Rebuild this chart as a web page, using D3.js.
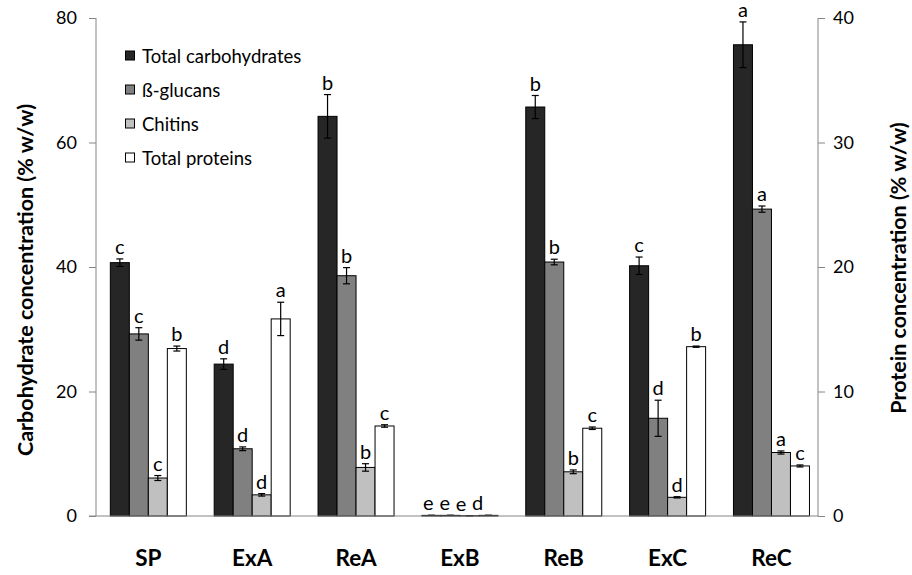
<!DOCTYPE html>
<html><head><meta charset="utf-8">
<script src="https://cdn.jsdelivr.net/npm/d3@7"></script>
<style>
body{margin:0;background:#fff}
text{font-family:Lato,'Open Sans',sans-serif;fill:#000}
</style>
</head><body><svg id="chart" width="912" height="575"></svg>
<script>
// Samples along the x axis
const samples = ["SP", "ExA", "ReA", "ExB", "ReB", "ExC", "ReC"];
const seriesNames = ["Total carbohydrates", "ß-glucans", "Chitins", "Total proteins"];

// Carbohydrate fractions (% w/w, left axis)
const carbohydrates    = [40.7, 24.4, 64.2, 0.1, 65.7, 40.2, 75.7];
const carbohydratesErr = [0.6, 0.85, 3.5, 0, 1.85, 1.4, 3.67];
const glucans          = [29.25, 10.8, 38.6, 0.1, 40.8, 15.7, 49.3];
const glucansErr       = [1.0, 0.3, 1.3, 0, 0.45, 2.9, 0.5];
const chitins          = [6.1, 3.4, 7.8, 0.05, 7.1, 3.0, 10.2];
const chitinsErr       = [0.4, 0.2, 0.6, 0, 0.3, 0.1, 0.25];

// Proteins (% w/w, right axis)
const proteins    = [13.45, 15.83, 7.23, 0.05, 7.05, 13.6, 4.02];
const proteinsErr = [0.2, 1.34, 0.1, 0, 0.1, 0.05, 0.08];

// Significance letters per series
const carbohydratesLetters = ["c", "d", "b", "e", "b", "c", "a"];
const glucansLetters       = ["c", "d", "b", "e", "b", "d", "a"];
const chitinsLetters       = ["c", "d", "b", "e", "b", "d", "a"];
const proteinsLetters      = ["b", "a", "c", "d", "c", "b", "c"];

const leftTicks = [0, 20, 40, 60, 80];
const rightTicks = [0, 10, 20, 30, 40];

const fills = ["#262626", "#808080", "#c0c0c0", "#ffffff"];

const svg = d3.select("#chart");

const yL = d3.scaleLinear().domain([0, 80]).range([516, 18]);
const yR = d3.scaleLinear().domain([0, 40]).range([516, 18]);

const xLeft = 96, xRight = 818;
const x0 = d3.scaleBand().domain(samples).range([96.4, 823.4]).padding(0);
const groupW = 76;
const x1 = d3.scaleBand().domain(seriesNames).range([0, groupW]).padding(0);

const series = [
  {name: seriesNames[0], vals: carbohydrates, errs: carbohydratesErr, letters: carbohydratesLetters, y: yL},
  {name: seriesNames[1], vals: glucans, errs: glucansErr, letters: glucansLetters, y: yL},
  {name: seriesNames[2], vals: chitins, errs: chitinsErr, letters: chitinsLetters, y: yL},
  {name: seriesNames[3], vals: proteins, errs: proteinsErr, letters: proteinsLetters, y: yR}
];

const axisColor = "#868686";

// Left axis
const gL = svg.append("g").attr("transform", `translate(${xLeft},0)`)
  .call(d3.axisLeft(yL).tickValues(leftTicks).tickSize(7).tickPadding(12));
// Right axis
const gR = svg.append("g").attr("transform", `translate(${xRight},0)`)
  .call(d3.axisRight(yR).tickValues(rightTicks).tickSize(7).tickPadding(8));
[gL, gR].forEach(g => {
  g.select(".domain").attr("stroke", axisColor).attr("d", `M0,${yL(80)}V${yL(0)}`);
  g.selectAll(".tick line").attr("stroke", axisColor);
  g.selectAll(".tick text").attr("font-size", 18).attr("font-family", "Lato, 'Open Sans', sans-serif");
});

// Bars
const groups = svg.append("g").selectAll("g").data(samples).join("g")
  .attr("transform", d => `translate(${x0(d) + (x0.bandwidth() - groupW) / 2},0)`);

series.forEach((s, si) => {
  groups.append("rect")
    .attr("x", x1(s.name))
    .attr("width", x1.bandwidth())
    .attr("y", (d, i) => s.y(s.vals[i]))
    .attr("height", (d, i) => s.y(0) - s.y(s.vals[i]))
    .attr("fill", fills[si])
    .attr("stroke", "#000")
    .attr("stroke-width", 1);
});

// X axis baseline
svg.append("line").attr("x1", xLeft - 7).attr("x2", xRight)
  .attr("y1", yL(0)).attr("y2", yL(0)).attr("stroke", axisColor);

// Error bars and letters
series.forEach((s, si) => {
  const cx = x1(s.name) + x1.bandwidth() / 2;
  groups.each(function(d, i) {
    const g = d3.select(this);
    const v = s.vals[i], e = s.errs[i];
    const yt = s.y(v + e), yb = s.y(Math.max(0, v - e));
    g.append("line").attr("x1", cx).attr("x2", cx).attr("y1", yt).attr("y2", yb)
      .attr("stroke", "#000").attr("stroke-width", 1.2);
    [yt, yb].forEach(yy => g.append("line")
      .attr("x1", cx - 3.5).attr("x2", cx + 3.5).attr("y1", yy).attr("y2", yy)
      .attr("stroke", "#000").attr("stroke-width", 1.2));
    // letters for the empty ExB group sit close together at the baseline
    const lx = d === "ExB" ? groupW / 2 - 7 + (si - 1.5) * 16.4 : cx;
    g.append("text").attr("x", lx).attr("y", yt - 5)
      .attr("text-anchor", "middle").attr("font-size", 20)
      .text(s.letters[i]);
  });
});

// Category labels
svg.append("g").selectAll("text").data(samples).join("text")
  .attr("x", d => x0(d) + x0.bandwidth() / 2)
  .attr("y", 566)
  .attr("text-anchor", "middle")
  .attr("font-size", 22.5).attr("font-weight", "bold")
  .text(d => d);

// Axis titles
svg.append("text").attr("transform", "translate(33,280) rotate(-90)")
  .attr("text-anchor", "middle").attr("font-size", 21.5).attr("font-weight", "bold")
  .text("Carbohydrate concentration (% w/w)");
svg.append("text").attr("transform", "translate(906,268) rotate(-90)")
  .attr("text-anchor", "middle").attr("font-size", 21.5).attr("font-weight", "bold")
  .text("Protein concentration (% w/w)");

// Legend
const legend = svg.append("g").attr("transform", "translate(125,56)");
seriesNames.forEach((n, i) => {
  const row = legend.append("g").attr("transform", `translate(0,${i * 34})`);
  row.append("rect").attr("x", 0.5).attr("y", -5).attr("width", 9).attr("height", 9)
    .attr("fill", fills[i]).attr("stroke", "#000").attr("stroke-width", 1);
  row.append("text").attr("x", 17).attr("y", 6.5).attr("font-size", 18.5).text(n);
});
</script>
</body></html>
